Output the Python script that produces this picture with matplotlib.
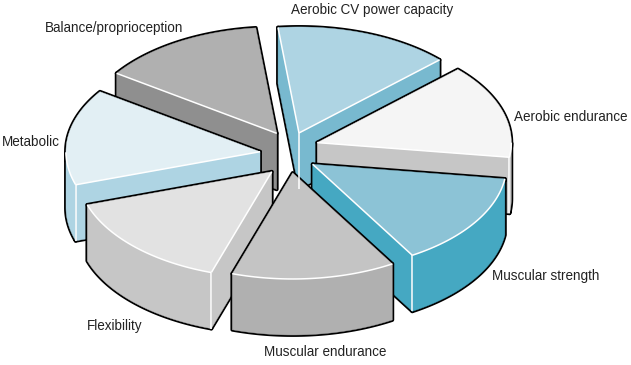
import numpy as np
import matplotlib
matplotlib.use("Agg")
import matplotlib.pyplot as plt
from matplotlib.patches import Polygon
from matplotlib import font_manager as fm

# Data, clockwise from the top (share of the circle)
categories = ["Aerobic CV power capacity", "Aerobic endurance", "Muscular strength",
              "Muscular endurance", "Flexibility", "Metabolic", "Balance/proprioception"]
values = [14.6, 14.3, 14.2, 13.6, 14.9, 14.6, 13.7]

# Styles
top_colors = ["#aed4e3", "#f5f5f5", "#8cc3d6", "#c4c4c4", "#e2e2e2", "#e2eff4", "#b0b0b0"]
side_colors = ["#78b9cf", "#c6c6c6", "#45a8c2", "#b0b0b0", "#c6c6c6", "#aed4e3", "#8f8f8f"]
paint_order = [6, 0, 1, 5, 2, 4, 3]
label_pos = [(291, 10), (514, 117), (492, 276), (264, 352), (87, 326), (2, 142), (45, 28)]
explode_x = [27, 29, 27.6, 27, 25.5, 30, 25.3]
explode_y = [21, 33, 21, 20.4, 27, 7, 22.6]

# Projection, in pixels of the 631x365 picture
CX, CY, RX, RY, H = 289.7, 152.7, 194, 106, 56
START = 96.2

names = {f.name for f in fm.fontManager.ttflist}
narrow = "Liberation Sans Narrow" in names
label_font = "Liberation Sans Narrow" if narrow else "Liberation Sans"
label_size = 11.8 if narrow else 9.75

fig = plt.figure(figsize=(6.31, 3.65), dpi=100)
ax = fig.add_axes([0, 0, 1, 1])
ax.set_xlim(0, 631)
ax.set_ylim(365, 0)
ax.axis("off")

spans = 360.0 * np.array(values) / np.sum(values)
highs = START - np.concatenate([[0], np.cumsum(spans)[:-1]])
lows = highs - spans


def draw_slice(i):
    hi, lo = highs[i], lows[i]
    mid = np.radians((hi + lo) / 2)
    ax0 = CX + explode_x[i] * np.cos(mid)
    ay0 = CY - explode_y[i] * np.sin(mid)

    def pt(t):
        r = np.radians(t)
        return ax0 + RX * np.cos(r), ay0 - RY * np.sin(r)

    ts = np.linspace(hi, lo, 60)
    arc = np.array([pt(t) for t in ts])
    apex = np.array([ax0, ay0])
    down = np.array([0, H])
    top = np.vstack([apex, arc])

    faces, whites = [], []
    hi_wall = np.cos(np.radians(hi)) < 0
    lo_wall = np.cos(np.radians(lo)) > 0
    rim = arc[np.sin(np.radians(ts)) < 0]
    if hi_wall:
        p = np.array(pt(hi))
        faces.append(np.array([apex, p, p + down, apex + down]))
        whites.append(np.array([apex, p]))
    if lo_wall:
        p = np.array(pt(lo))
        faces.append(np.array([apex, p, p + down, apex + down]))
        whites.append(np.array([apex, p]))
    if hi_wall and lo_wall:
        whites.append(np.array([apex, apex + down]))
    if len(rim) > 1:
        faces.append(np.vstack([rim, (rim + down)[::-1]]))
        whites.append(rim)
        if hi_wall and np.sin(np.radians(hi)) < 0:
            whites.append(np.array([rim[0], rim[0] + down]))
        if lo_wall and np.sin(np.radians(lo)) < 0:
            whites.append(np.array([rim[-1], rim[-1] + down]))

    for f in faces + [top]:
        ax.add_patch(Polygon(f, closed=True, fc="black", ec="black", lw=2.8, joinstyle="round"))
    for f in faces:
        ax.add_patch(Polygon(f, closed=True, fc=side_colors[i], ec=side_colors[i], lw=0.3))
    ax.add_patch(Polygon(top, closed=True, fc=top_colors[i], ec=top_colors[i], lw=0.3))
    for w in whites:
        ax.plot(w[:, 0], w[:, 1], color="white", lw=1.1, solid_capstyle="butt")


for i in paint_order:
    draw_slice(i)

for name, (x, y) in zip(categories, label_pos):
    ax.text(x, y, name, family=label_font, fontsize=label_size, color="#222222",
            ha="left", va="center")

fig.savefig("out.png", dpi=100)
